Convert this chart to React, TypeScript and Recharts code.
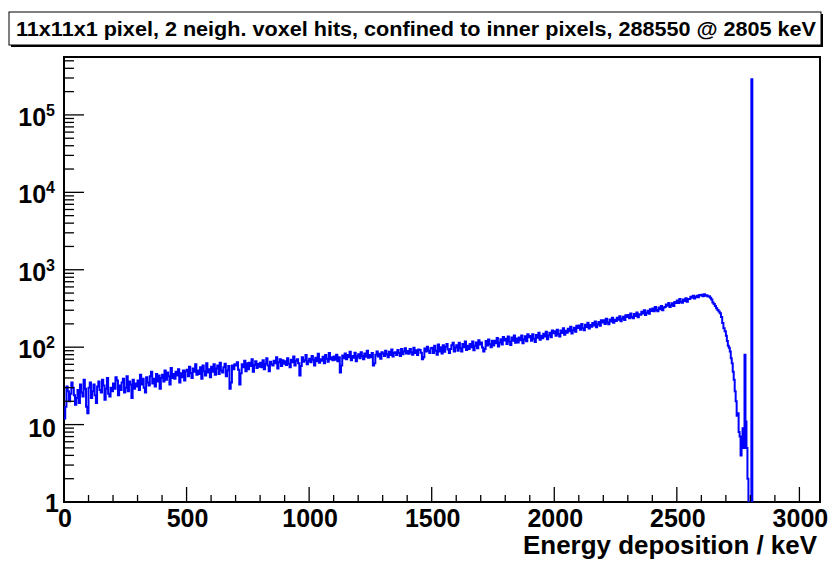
import { ComposedChart, Line, XAxis, YAxis, ReferenceArea } from "recharts"

// counts per 5 keV bin, 0 .. 2695 keV (bin left edges), one row = 50 keV
const BIN = 5
const counts = [
    12, 17, 31, 27, 20, 25, 35, 30, 24, 18,
    22, 28, 19, 33, 26, 23, 38, 29, 17, 14,
    30, 35, 22, 27, 33, 24, 19, 31, 36, 28,
    26, 38, 32, 21, 29, 40, 25, 23, 30, 27,
    34, 29, 41, 37, 24, 32, 28, 35, 39, 26,
    30, 42, 27, 36, 33, 22, 38, 29, 34, 31,
    37, 28, 44, 33, 39, 30, 26, 41, 35, 32,
    42, 48, 34, 39, 31, 45, 36, 43, 29, 40,
    44, 36, 50, 38, 47, 42, 33, 54, 40, 45,
    39, 48, 43, 52, 35, 46, 41, 50, 37, 49,
    51, 42, 56, 46, 40, 53, 48, 60, 44, 50,
    45, 55, 39, 58, 49, 43, 62, 47, 52, 41,
    56, 48, 60, 44, 53, 58, 45, 63, 50, 47,
    55, 61, 42, 50, 57, 29, 35, 58, 52, 60,
    58, 64, 51, 33, 46, 60, 55, 67, 49, 62,
    52, 63, 57, 70, 48, 59, 66, 54, 61, 56,
    63, 55, 68, 52, 61, 72, 58, 49, 65, 60,
    58, 67, 62, 74, 53, 64, 70, 57, 68, 61,
    66, 59, 72, 61, 55, 69, 64, 76, 58, 67,
    70, 62, 43, 57, 74, 65, 68, 79, 60, 66,
    71, 64, 77, 69, 58, 73, 66, 82, 63, 70,
    67, 75, 62, 79, 71, 65, 84, 70, 74, 68,
    76, 69, 80, 66, 74, 47, 58, 78, 72, 83,
    70, 79, 74, 87, 68, 77, 73, 85, 66, 76,
    81, 72, 86, 77, 70, 83, 75, 90, 73, 79,
    74, 84, 58, 62, 80, 88, 76, 82, 71, 86,
    83, 77, 90, 81, 74, 87, 79, 93, 76, 84,
    86, 79, 92, 84, 77, 95, 81, 88, 97, 83,
    89, 82, 95, 86, 80, 98, 84, 91, 79, 93,
    92, 85, 70, 74, 96, 88, 101, 90, 84, 97,
    98, 84, 104, 90, 80, 108, 88, 100, 83, 106,
    87, 101, 110, 93, 84, 95, 106, 114, 88, 99,
    106, 90, 114, 97, 88, 110, 100, 118, 92, 104,
    95, 110, 100, 118, 91, 104, 115, 97, 123, 108,
    115, 99, 88, 95, 120, 105, 126, 109, 100, 121,
    105, 121, 112, 131, 102, 115, 127, 108, 135, 122,
    128, 110, 137, 118, 107, 133, 121, 141, 114, 129,
    115, 133, 123, 142, 112, 126, 138, 119, 147, 134,
    139, 121, 147, 128, 117, 144, 132, 153, 125, 140,
    130, 149, 137, 158, 127, 142, 154, 134, 164, 151,
    160, 140, 168, 147, 137, 164, 152, 175, 145, 163,
    153, 173, 160, 183, 150, 166, 178, 158, 189, 177,
    190, 168, 199, 176, 166, 195, 182, 206, 174, 193,
    183, 205, 191, 214, 181, 197, 211, 189, 222, 208,
    222, 199, 232, 208, 198, 228, 214, 240, 206, 226,
    217, 240, 226, 251, 216, 232, 247, 224, 259, 245,
    260, 237, 272, 246, 236, 268, 252, 281, 244, 266,
    262, 287, 272, 300, 261, 278, 296, 270, 309, 294,
    316, 290, 330, 301, 290, 326, 308, 340, 300, 326,
    330, 356, 342, 372, 330, 349, 368, 340, 384, 372,
    400, 373, 418, 386, 375, 414, 395, 430, 386, 420,
    420, 448, 436, 462, 426, 445, 460, 440, 472, 466,
    476, 455, 482, 462, 468, 450, 456, 436, 414, 378,
    360, 340, 318, 302, 288, 275, 245, 205, 175, 160,
]

// finer 4 keV bins for the edge and the 2805 keV line
const TAIL_START = 2700
const TAIL_BIN = 4
const tailCounts = [
    140, 120, 104, 98, 88, 72, 62, 48, 38, 27,
    20, 13, 14, 8, 7, 4, 6, 9, 5, 80,
    11, 5, 2, 1, 0, 0, 288550, 0,
]

const xTicks = Array.from({ length: 31 }, (_, i) => i * 100)
const xMajor = [0, 500, 1000, 1500, 2000, 2500, 3000]
const yMajor = [1, 10, 100, 1000, 10000, 100000]
const yTicks = yMajor.flatMap(d => [1, 2, 3, 4, 5, 6, 7, 8, 9].map(m => m * d)).filter(v => v <= 500000)

const X_MAX = 3084
const Y_MAX = 5.6e5

const data = [
    ...counts.map((c, i) => ({ e: i * BIN, y: c })),
    ...tailCounts.map((c, i) => ({ e: TAIL_START + i * TAIL_BIN, y: c })),
    { e: TAIL_START + tailCounts.length * TAIL_BIN, y: 0 },
].map(d => ({ e: d.e, y: d.y > 0 ? d.y : 0.1 }))

const FONT = "'Liberation Sans', Arial, Helvetica, sans-serif"

const XTick = (props: any) => {
    const { x, y, payload } = props
    const major = xMajor.includes(payload.value)
    return (
        <g>
            <line x1={x} x2={x} y1={y} y2={y - (major ? 15 : 7)} stroke="#000" strokeWidth={1.3} />
            {major && (
                <text x={x + 1} y={y + 25} textAnchor="middle" fontFamily={FONT}
                    fontWeight="bold" fontSize={25} fill="#000">
                    {payload.value}
                </text>
            )}
        </g>
    )
}

const YTick = (props: any) => {
    const { x, y, payload } = props
    const v = payload.value
    const exp = Math.round(Math.log10(v))
    const major = yMajor.includes(v)
    let label = null
    if (major) {
        if (exp === 0) {
            label = <text x={x - 5} y={y + 10} textAnchor="end" fontFamily={FONT}
                fontWeight="bold" fontSize={25} fill="#000">1</text>
        } else if (exp === 1) {
            label = <text x={x - 8} y={y + 12} textAnchor="end" fontFamily={FONT}
                fontWeight="bold" fontSize={25} fill="#000">10</text>
        } else {
            label = (
                <text x={x - 9} y={y + 11} textAnchor="end" fontFamily={FONT}
                    fontWeight="bold" fontSize={25} fill="#000">
                    <tspan>10</tspan>
                    <tspan dy={-10} fontSize={16}>{exp}</tspan>
                </text>
            )
        }
    }
    return (
        <g>
            <line x1={x} x2={x + (major ? 20 : 10)} y1={y} y2={y} stroke="#000" strokeWidth={1.3} />
            {label}
        </g>
    )
}

export default function App() {
    return (
        <div style={{ position: "absolute", left: 0, top: 0, width: 830, height: 565, background: "#fff" }}>
            <ComposedChart width={830} height={565} data={data}
                margin={{ top: 57, right: 10, bottom: 0, left: 0 }}>
                <XAxis dataKey="e" type="number" domain={[0, X_MAX]} ticks={xTicks} interval={0}
                    allowDataOverflow height={63} axisLine={false} tickLine={false}
                    tickSize={0} tickMargin={0} tick={<XTick />} />
                <YAxis type="number" scale="log" domain={[1, Y_MAX]} ticks={yTicks} interval={0}
                    allowDataOverflow width={64} axisLine={false} tickLine={false}
                    tickSize={0} tickMargin={0} tick={<YTick />} />
                <ReferenceArea x1={0} x2={X_MAX} y1={1} y2={Y_MAX} fill="none"
                    stroke="#000" strokeWidth={2} ifOverflow="visible" />
                <Line dataKey="y" type="stepAfter" stroke="#0000ff" strokeWidth={2}
                    dot={false} activeDot={false} isAnimationActive={false} />
            </ComposedChart>
            <svg width={830} height={565} style={{ position: "absolute", left: 0, top: 0, pointerEvents: "none" }}>
                <rect x={11} y={14} width={812} height={33} fill="#000" />
                <rect x={9} y={12} width={812} height={33} fill="#fff" stroke="#000" strokeWidth={1} />
                <text x={16} y={36} fontFamily={FONT} fontWeight="bold" fontSize={20}
                    textLength={800} lengthAdjust="spacingAndGlyphs" fill="#000">
                    11x11x1 pixel, 2 neigh. voxel hits, confined to inner pixels, 288550 @ 2805 keV
                </text>
                <text x={817} y={554} textAnchor="end" fontFamily={FONT} fontWeight="bold"
                    fontSize={25} textLength={294} lengthAdjust="spacingAndGlyphs" fill="#000">
                    Energy deposition / keV
                </text>
            </svg>
        </div>
    )
}
